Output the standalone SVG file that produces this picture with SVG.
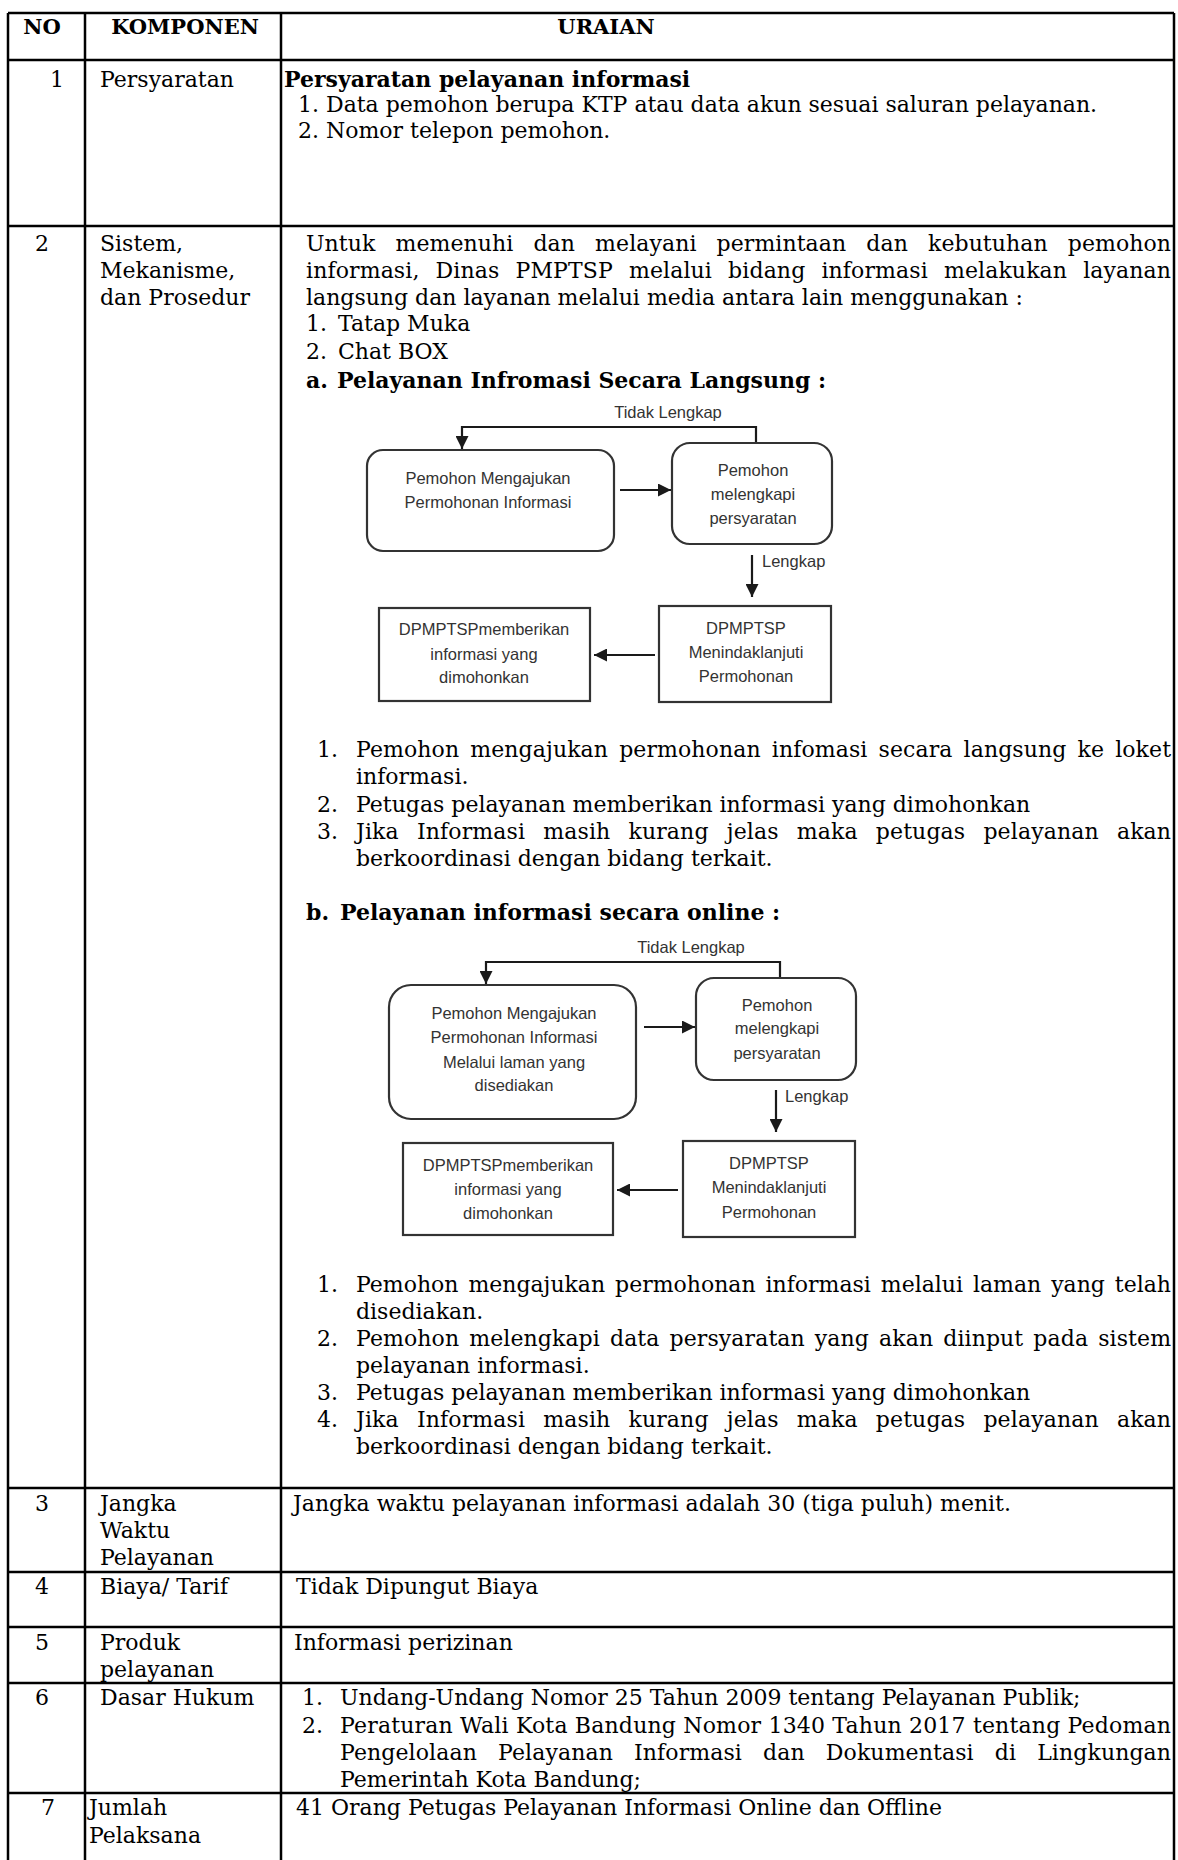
<svg xmlns="http://www.w3.org/2000/svg" width="1178" height="1860" viewBox="0 0 1178 1860">
<style>
.t{font-family:"DejaVu Serif","Liberation Serif",serif;font-size:22px;fill:#000}
.b{font-weight:bold}
.h{font-family:"DejaVu Serif","Liberation Serif",serif;font-size:21px;font-weight:bold;fill:#000}
.m{text-anchor:middle}
.e{text-anchor:end}
.f{font-family:"Liberation Sans",Arial,sans-serif;font-size:16.5px;fill:#333;text-anchor:middle}
.fl{font-family:"Liberation Sans",Arial,sans-serif;font-size:16.5px;fill:#333}
.box{fill:#fff;stroke:#333;stroke-width:2.2}
.conn{fill:none;stroke:#1a1a1a;stroke-width:2.2}
.grid{stroke:#000;stroke-width:2.5;fill:none}
</style>
<defs>
<marker id="ah" markerUnits="userSpaceOnUse" markerWidth="13" markerHeight="13" refX="13" refY="6.5" orient="auto">
<path d="M0,0 L13,6.5 L0,13 z" fill="#1a1a1a"/>
</marker>
</defs>
<rect width="1178" height="1860" fill="#fff"/>

<g id="table-grid" class="grid">
<line x1="8" y1="13" x2="8" y2="1860"/>
<line x1="1174" y1="13" x2="1174" y2="1860"/>
<line x1="85" y1="13" x2="85" y2="1860"/>
<line x1="281" y1="13" x2="281" y2="1860"/>
<line x1="8" y1="13" x2="1174" y2="13"/>
<line x1="8" y1="60" x2="1174" y2="60"/>
<line x1="8" y1="226" x2="1174" y2="226"/>
<line x1="8" y1="1488" x2="1174" y2="1488"/>
<line x1="8" y1="1572" x2="1174" y2="1572"/>
<line x1="8" y1="1627" x2="1174" y2="1627"/>
<line x1="8" y1="1683" x2="1174" y2="1683"/>
<line x1="8" y1="1793" x2="1174" y2="1793"/>
</g>

<g id="header">
<text class="h m" x="42" y="34">NO</text>
<text class="h m" x="185" y="34">KOMPONEN</text>
<text class="h m" x="606" y="34">URAIAN</text>
</g>

<g id="row1">
<text class="t e" x="64" y="87">1</text>
<text class="t" x="100" y="87">Persyaratan</text>
<text class="t b" x="284" y="87">Persyaratan pelayanan informasi</text>
<text class="t" x="298" y="112">1.</text>
<text class="t" x="326" y="112">Data pemohon berupa KTP atau data akun sesuai saluran pelayanan.</text>
<text class="t" x="298" y="138">2.</text>
<text class="t" x="326" y="138">Nomor telepon pemohon.</text>
</g>

<g id="row2">
<text class="t m" x="42" y="251">2</text>
<text class="t" x="100" y="251">Sistem,</text>
<text class="t" x="100" y="278">Mekanisme,</text>
<text class="t" x="100" y="305">dan Prosedur</text>
<text class="t" x="306" y="251" word-spacing="13" textLength="865" lengthAdjust="spacing">Untuk memenuhi dan melayani permintaan dan kebutuhan pemohon</text>
<text class="t" x="306" y="278" word-spacing="9" textLength="865" lengthAdjust="spacing">informasi, Dinas PMPTSP melalui bidang informasi melakukan layanan</text>
<text class="t" x="306" y="305">langsung dan layanan melalui media antara lain menggunakan :</text>
<text class="t" x="306" y="331">1.</text>
<text class="t" x="338" y="331">Tatap Muka</text>
<text class="t" x="306" y="359">2.</text>
<text class="t" x="338" y="359">Chat BOX</text>
<text class="t b" x="306" y="388">a.</text>
<text class="t b" x="337" y="388">Pelayanan Infromasi Secara Langsung :</text>
</g>

<g id="flow-a-connectors">
<polyline class="conn" points="756,443 756,427 462,427 462,449" marker-end="url(#ah)"/>
<line class="conn" x1="620" y1="490" x2="671" y2="490" marker-end="url(#ah)"/>
<line class="conn" x1="752" y1="555" x2="752" y2="597" marker-end="url(#ah)"/>
<line class="conn" x1="655" y1="655" x2="594" y2="655" marker-end="url(#ah)"/>
<text class="fl" x="668" y="418" text-anchor="middle">Tidak Lengkap</text>
<text class="fl" x="762" y="567">Lengkap</text>
</g>
<g id="flow-a-ajukan">
<rect class="box" x="367" y="450" width="247" height="101" rx="16"/>
<text class="f" x="488" y="484">Pemohon Mengajukan</text>
<text class="f" x="488" y="508">Permohonan Informasi</text>
</g>
<g id="flow-a-lengkapi">
<rect class="box" x="672" y="443" width="160" height="101" rx="18"/>
<text class="f" x="753" y="476">Pemohon</text>
<text class="f" x="753" y="500">melengkapi</text>
<text class="f" x="753" y="524">persyaratan</text>
</g>
<g id="flow-a-tindaklanjut">
<rect class="box" x="659" y="606" width="172" height="96"/>
<text class="f" x="746" y="634">DPMPTSP</text>
<text class="f" x="746" y="658">Menindaklanjuti</text>
<text class="f" x="746" y="682">Permohonan</text>
</g>
<g id="flow-a-berikan">
<rect class="box" x="379" y="608" width="211" height="93"/>
<text class="f" x="484" y="635">DPMPTSPmemberikan</text>
<text class="f" x="484" y="660">informasi yang</text>
<text class="f" x="484" y="683">dimohonkan</text>
</g>

<g id="list-a">
<text class="t" x="317" y="757">1.</text>
<text class="t" x="356" y="757" word-spacing="4" textLength="815" lengthAdjust="spacing">Pemohon mengajukan permohonan infomasi secara langsung ke loket</text>
<text class="t" x="356" y="784">informasi.</text>
<text class="t" x="317" y="812">2.</text>
<text class="t" x="356" y="812">Petugas pelayanan memberikan informasi yang dimohonkan</text>
<text class="t" x="317" y="839">3.</text>
<text class="t" x="356" y="839" word-spacing="11" textLength="815" lengthAdjust="spacing">Jika Informasi masih kurang jelas maka petugas pelayanan akan</text>
<text class="t" x="356" y="866">berkoordinasi dengan bidang terkait.</text>
<text class="t b" x="306" y="920">b.</text>
<text class="t b" x="340" y="920">Pelayanan informasi secara online :</text>
</g>

<g id="flow-b-connectors">
<polyline class="conn" points="780,978 780,962 486,962 486,984" marker-end="url(#ah)"/>
<line class="conn" x1="644" y1="1027" x2="695" y2="1027" marker-end="url(#ah)"/>
<line class="conn" x1="776" y1="1090" x2="776" y2="1132" marker-end="url(#ah)"/>
<line class="conn" x1="678" y1="1190" x2="617" y2="1190" marker-end="url(#ah)"/>
<text class="fl" x="691" y="953" text-anchor="middle">Tidak Lengkap</text>
<text class="fl" x="785" y="1102">Lengkap</text>
</g>
<g id="flow-b-ajukan">
<rect class="box" x="389" y="985" width="247" height="134" rx="22"/>
<text class="f" x="514" y="1019">Pemohon Mengajukan</text>
<text class="f" x="514" y="1043">Permohonan Informasi</text>
<text class="f" x="514" y="1068">Melalui laman yang</text>
<text class="f" x="514" y="1091">disediakan</text>
</g>
<g id="flow-b-lengkapi">
<rect class="box" x="696" y="978" width="160" height="102" rx="18"/>
<text class="f" x="777" y="1011">Pemohon</text>
<text class="f" x="777" y="1034">melengkapi</text>
<text class="f" x="777" y="1059">persyaratan</text>
</g>
<g id="flow-b-tindaklanjut">
<rect class="box" x="683" y="1141" width="172" height="96"/>
<text class="f" x="769" y="1169">DPMPTSP</text>
<text class="f" x="769" y="1193">Menindaklanjuti</text>
<text class="f" x="769" y="1218">Permohonan</text>
</g>
<g id="flow-b-berikan">
<rect class="box" x="403" y="1143" width="210" height="92"/>
<text class="f" x="508" y="1171">DPMPTSPmemberikan</text>
<text class="f" x="508" y="1195">informasi yang</text>
<text class="f" x="508" y="1219">dimohonkan</text>
</g>

<g id="list-b">
<text class="t" x="317" y="1292">1.</text>
<text class="t" x="356" y="1292" word-spacing="3" textLength="815" lengthAdjust="spacing">Pemohon mengajukan permohonan informasi melalui laman yang telah</text>
<text class="t" x="356" y="1319">disediakan.</text>
<text class="t" x="317" y="1346">2.</text>
<text class="t" x="356" y="1346" word-spacing="3" textLength="815" lengthAdjust="spacing">Pemohon melengkapi data persyaratan yang akan diinput pada sistem</text>
<text class="t" x="356" y="1373">pelayanan informasi.</text>
<text class="t" x="317" y="1400">3.</text>
<text class="t" x="356" y="1400">Petugas pelayanan memberikan informasi yang dimohonkan</text>
<text class="t" x="317" y="1427">4.</text>
<text class="t" x="356" y="1427" word-spacing="11" textLength="815" lengthAdjust="spacing">Jika Informasi masih kurang jelas maka petugas pelayanan akan</text>
<text class="t" x="356" y="1454">berkoordinasi dengan bidang terkait.</text>
</g>

<g id="row3">
<text class="t m" x="42" y="1511">3</text>
<text class="t" x="100" y="1511">Jangka</text>
<text class="t" x="100" y="1538">Waktu</text>
<text class="t" x="100" y="1565">Pelayanan</text>
<text class="t" x="293" y="1511">Jangka waktu pelayanan informasi adalah 30 (tiga puluh) menit.</text>
</g>

<g id="row4">
<text class="t m" x="42" y="1594">4</text>
<text class="t" x="100" y="1594">Biaya/ Tarif</text>
<text class="t" x="296" y="1594">Tidak Dipungut Biaya</text>
</g>

<g id="row5">
<text class="t m" x="42" y="1650">5</text>
<text class="t" x="100" y="1650">Produk</text>
<text class="t" x="100" y="1677">pelayanan</text>
<text class="t" x="294" y="1650">Informasi perizinan</text>
</g>

<g id="row6">
<text class="t m" x="42" y="1705">6</text>
<text class="t" x="100" y="1705">Dasar Hukum</text>
<text class="t" x="302" y="1705">1.</text>
<text class="t" x="340" y="1705">Undang-Undang Nomor 25 Tahun 2009 tentang Pelayanan Publik;</text>
<text class="t" x="302" y="1733">2.</text>
<text class="t" x="340" y="1733" textLength="831" lengthAdjust="spacing">Peraturan Wali Kota Bandung Nomor 1340 Tahun 2017 tentang Pedoman</text>
<text class="t" x="340" y="1760" word-spacing="14" textLength="831" lengthAdjust="spacing">Pengelolaan Pelayanan Informasi dan Dokumentasi di Lingkungan</text>
<text class="t" x="340" y="1787">Pemerintah Kota Bandung;</text>
</g>

<g id="row7">
<text class="t m" x="48" y="1815">7</text>
<text class="t" x="89" y="1815">Jumlah</text>
<text class="t" x="89" y="1843">Pelaksana</text>
<text class="t" x="296" y="1815">41 Orang Petugas Pelayanan Informasi Online dan Offline</text>
</g>
</svg>
